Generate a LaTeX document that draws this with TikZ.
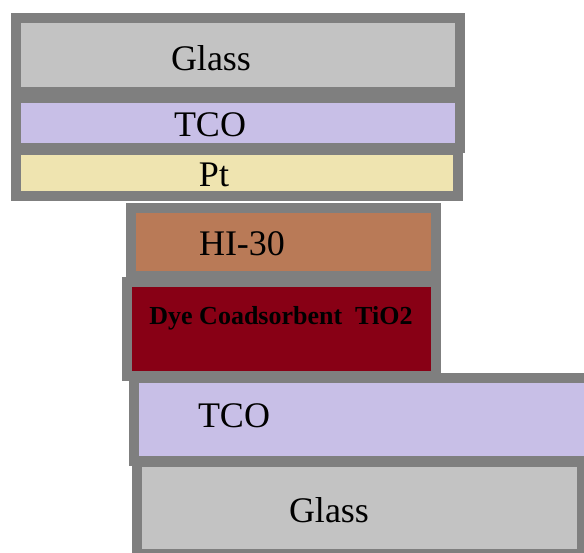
\documentclass[tikz,border=0pt]{standalone}
\usepackage{fontspec}
\setmainfont{Liberation Serif}
\definecolor{edgegray}{HTML}{7F7F7F}
\definecolor{glassgray}{HTML}{C3C3C3}
\definecolor{tcolav}{HTML}{C8BFE7}
\definecolor{ptyellow}{HTML}{EFE4B0}
\definecolor{hibrown}{HTML}{B97A57}
\definecolor{dyered}{HTML}{880015}
\tikzset{
  layer/.style={draw=edgegray, line width=10pt},
  lbl/.style={anchor=base, inner sep=0pt, font=\fontsize{36}{40}\selectfont},
  dyelbl/.style={anchor=base, inner sep=0pt, font=\fontsize{26}{30}\selectfont\bfseries}
}
\begin{document}
\begin{tikzpicture}[x=1pt,y=-1pt]
    \useasboundingbox (0,0) rectangle (584,553);
    \clip (0,0) rectangle (584,553);
    % ---- counter electrode ----
    \draw[layer, fill=glassgray] (16,18) rectangle (459.5,92);
    \node[lbl] (glassTop) at (211,70.7) {Glass};
    \draw[layer, fill=tcolav] (16,98) rectangle (459.5,148);
    \node[lbl] (tcoTop) at (210,137) {TCO};
    \draw[layer, fill=ptyellow] (16,150) rectangle (457.5,196.5);
    \node[lbl] (pt) at (214,187) {Pt};
    % ---- electrolyte and dye ----
    \draw[layer, fill=hibrown] (130.5,208) rectangle (435.5,276);
    \node[lbl] (hi) at (242,256) {HI-30};
    \draw[layer, fill=dyered] (126.5,282) rectangle (435.5,376.5);
    \node[dyelbl] (dye) at (281,325) {Dye Coadsorbent\ \ TiO2};
    % ---- photoanode ----
    \draw[layer, fill=tcolav] (134,378) rectangle (600,461);
    \node[lbl] (tcoBot) at (234,428) {TCO};
    \draw[layer, fill=glassgray] (137,462) rectangle (582,554);
    \node[lbl] (glassBot) at (329,522) {Glass};
\end{tikzpicture}
\end{document}
